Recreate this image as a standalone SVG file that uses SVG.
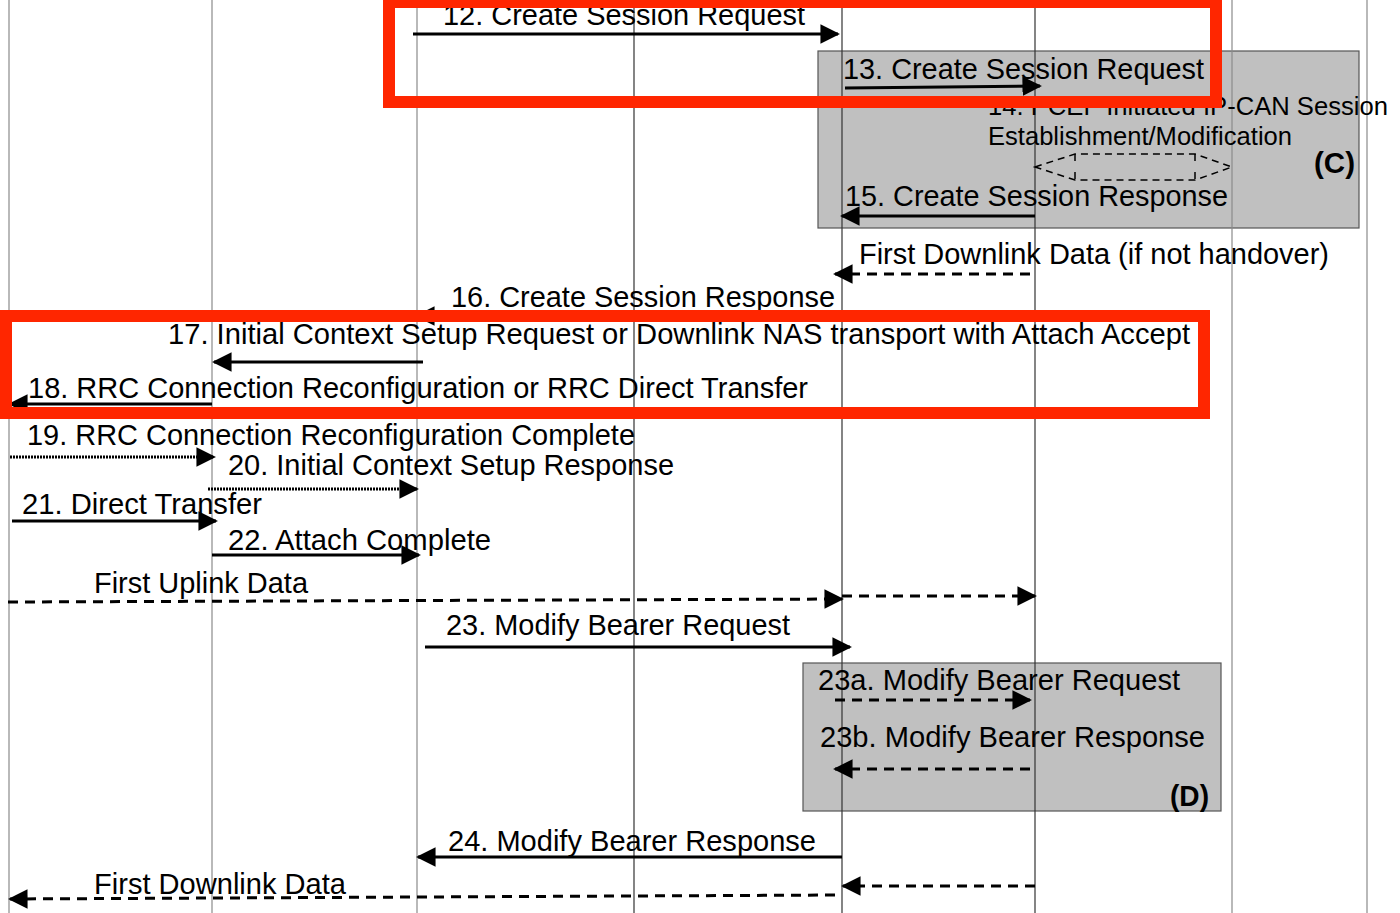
<svg xmlns="http://www.w3.org/2000/svg" width="1400" height="913" viewBox="0 0 1400 913">
<style>
text{font-family:"Liberation Sans",Arial,sans-serif;font-size:29px;fill:#000}
.b{font-weight:bold}
.s{font-size:25px}
.ll{stroke:#8a8a8a;stroke-width:1.2}
.ld{stroke:#333;stroke-width:1.2}
.box{fill:#c0c0c0;stroke:#555;stroke-width:1.2}
.m{stroke:#000;stroke-width:3;fill:none}
.d{stroke:#000;stroke-width:3;fill:none;stroke-dasharray:10 7}
.dt{stroke:#000;stroke-width:3;fill:none;stroke-dasharray:2 1}
.hx{stroke:#000;stroke-width:1.5;fill:none;stroke-dasharray:7 5}
.red{fill:none;stroke:#ff2600;stroke-width:12}
</style>
<defs>
<marker id="ah" viewBox="0 0 10 10" refX="9" refY="5" markerWidth="6.5" markerHeight="6.5" markerUnits="strokeWidth" orient="auto">
<path d="M0,0 L10,5 L0,10 Z" fill="#000"/>
</marker>
</defs>
<rect width="1400" height="913" fill="#fff"/>
<g id="boxC"><rect class="box" x="818" y="51" width="541" height="177"/></g>
<g id="boxD"><rect class="box" x="803" y="663" width="418" height="148"/></g>
<g id="lifelines">
<line class="ll" x1="9" y1="0" x2="9" y2="913"/>
<line class="ll" x1="212" y1="0" x2="212" y2="913"/>
<line class="ll" x1="417" y1="0" x2="417" y2="913"/>
<line class="ld" x1="634" y1="0" x2="634" y2="913"/>
<line class="ld" x1="842" y1="0" x2="842" y2="913"/>
<line class="ld" x1="1035" y1="0" x2="1035" y2="913"/>
<line class="ll" x1="1232" y1="0" x2="1232" y2="913"/>
<line class="ll" x1="1367" y1="0" x2="1367" y2="913"/>
</g>
<g id="connectors">
<line class="m" x1="413" y1="34" x2="838" y2="34" marker-end="url(#ah)"/>
<line class="m" x1="845" y1="88" x2="1040" y2="86" marker-end="url(#ah)"/>
<polygon class="hx" points="1035,167 1075,154 1195,154 1232,167 1195,180 1075,180"/>
<line class="hx" x1="1075" y1="154" x2="1075" y2="162"/>
<line class="hx" x1="1195" y1="154" x2="1195" y2="162"/>
<line class="hx" x1="1075" y1="172" x2="1075" y2="180"/>
<line class="hx" x1="1195" y1="172" x2="1195" y2="180"/>
<line class="m" x1="1035" y1="216" x2="842" y2="216" marker-end="url(#ah)"/>
<line class="d" x1="1030" y1="274" x2="835" y2="274" marker-end="url(#ah)"/>
<line class="m" x1="842" y1="316" x2="417" y2="316" marker-end="url(#ah)"/>
<line class="m" x1="423" y1="362" x2="214" y2="362" marker-end="url(#ah)"/>
<line class="m" x1="212" y1="404" x2="10" y2="404" marker-end="url(#ah)"/>
<line class="dt" x1="10" y1="457" x2="214" y2="457" marker-end="url(#ah)"/>
<line class="dt" x1="208" y1="489" x2="417" y2="489" marker-end="url(#ah)"/>
<line class="m" x1="12" y1="521" x2="216" y2="521" marker-end="url(#ah)"/>
<line class="m" x1="212" y1="555" x2="419" y2="555" marker-end="url(#ah)"/>
<line class="d" x1="8" y1="602" x2="842" y2="599" marker-end="url(#ah)"/>
<line class="d" x1="842" y1="596" x2="1035" y2="596" marker-end="url(#ah)"/>
<line class="m" x1="425" y1="647" x2="850" y2="647" marker-end="url(#ah)"/>
<line class="d" x1="835" y1="700" x2="1030" y2="700" marker-end="url(#ah)"/>
<line class="d" x1="1030" y1="769" x2="835" y2="769" marker-end="url(#ah)"/>
<line class="m" x1="842" y1="857" x2="418" y2="857" marker-end="url(#ah)"/>
<line class="d" x1="1035" y1="886" x2="843" y2="886" marker-end="url(#ah)"/>
<line class="d" x1="835" y1="895" x2="10" y2="899" marker-end="url(#ah)"/>
</g>
<g id="labels">
<text x="443" y="25" textLength="362" lengthAdjust="spacingAndGlyphs">12. Create Session Request</text>
<text x="843" y="79" textLength="361" lengthAdjust="spacingAndGlyphs">13. Create Session Request</text>
<text class="s" x="988" y="115" textLength="400" lengthAdjust="spacingAndGlyphs">14. PCEF Initiated IP-CAN Session</text>
<text class="s" x="988" y="145" textLength="304" lengthAdjust="spacingAndGlyphs">Establishment/Modification</text>
<text class="b" x="1314" y="173" textLength="41" lengthAdjust="spacingAndGlyphs">(C)</text>
<text x="845" y="206" textLength="383" lengthAdjust="spacingAndGlyphs">15. Create Session Response</text>
<text x="859" y="264" textLength="470" lengthAdjust="spacingAndGlyphs">First Downlink Data (if not handover)</text>
<text x="451" y="307" textLength="384" lengthAdjust="spacingAndGlyphs">16. Create Session Response</text>
<text x="168" y="344" textLength="1022" lengthAdjust="spacingAndGlyphs">17. Initial Context Setup Request or Downlink NAS transport with Attach Accept</text>
<text x="28" y="398" textLength="780" lengthAdjust="spacingAndGlyphs">18. RRC Connection Reconfiguration or RRC Direct Transfer</text>
<text x="27" y="445" textLength="608" lengthAdjust="spacingAndGlyphs">19. RRC Connection Reconfiguration Complete</text>
<text x="228" y="475" textLength="446" lengthAdjust="spacingAndGlyphs">20. Initial Context Setup Response</text>
<text x="22" y="514" textLength="240" lengthAdjust="spacingAndGlyphs">21. Direct Transfer</text>
<text x="228" y="550" textLength="263" lengthAdjust="spacingAndGlyphs">22. Attach Complete</text>
<text x="94" y="593" textLength="214" lengthAdjust="spacingAndGlyphs">First Uplink Data</text>
<text x="446" y="635" textLength="344" lengthAdjust="spacingAndGlyphs">23. Modify Bearer Request</text>
<text x="818" y="690" textLength="362" lengthAdjust="spacingAndGlyphs">23a. Modify Bearer Request</text>
<text x="820" y="747" textLength="385" lengthAdjust="spacingAndGlyphs">23b. Modify Bearer Response</text>
<text class="b" x="1170" y="806" textLength="39" lengthAdjust="spacingAndGlyphs">(D)</text>
<text x="448" y="851" textLength="368" lengthAdjust="spacingAndGlyphs">24. Modify Bearer Response</text>
<text x="94" y="894" textLength="252" lengthAdjust="spacingAndGlyphs">First Downlink Data</text>
</g>
<g id="highlights">
<rect class="red" x="389" y="2" width="827" height="100"/>
<rect class="red" x="6" y="316" width="1198" height="97"/>
</g>
</svg>
